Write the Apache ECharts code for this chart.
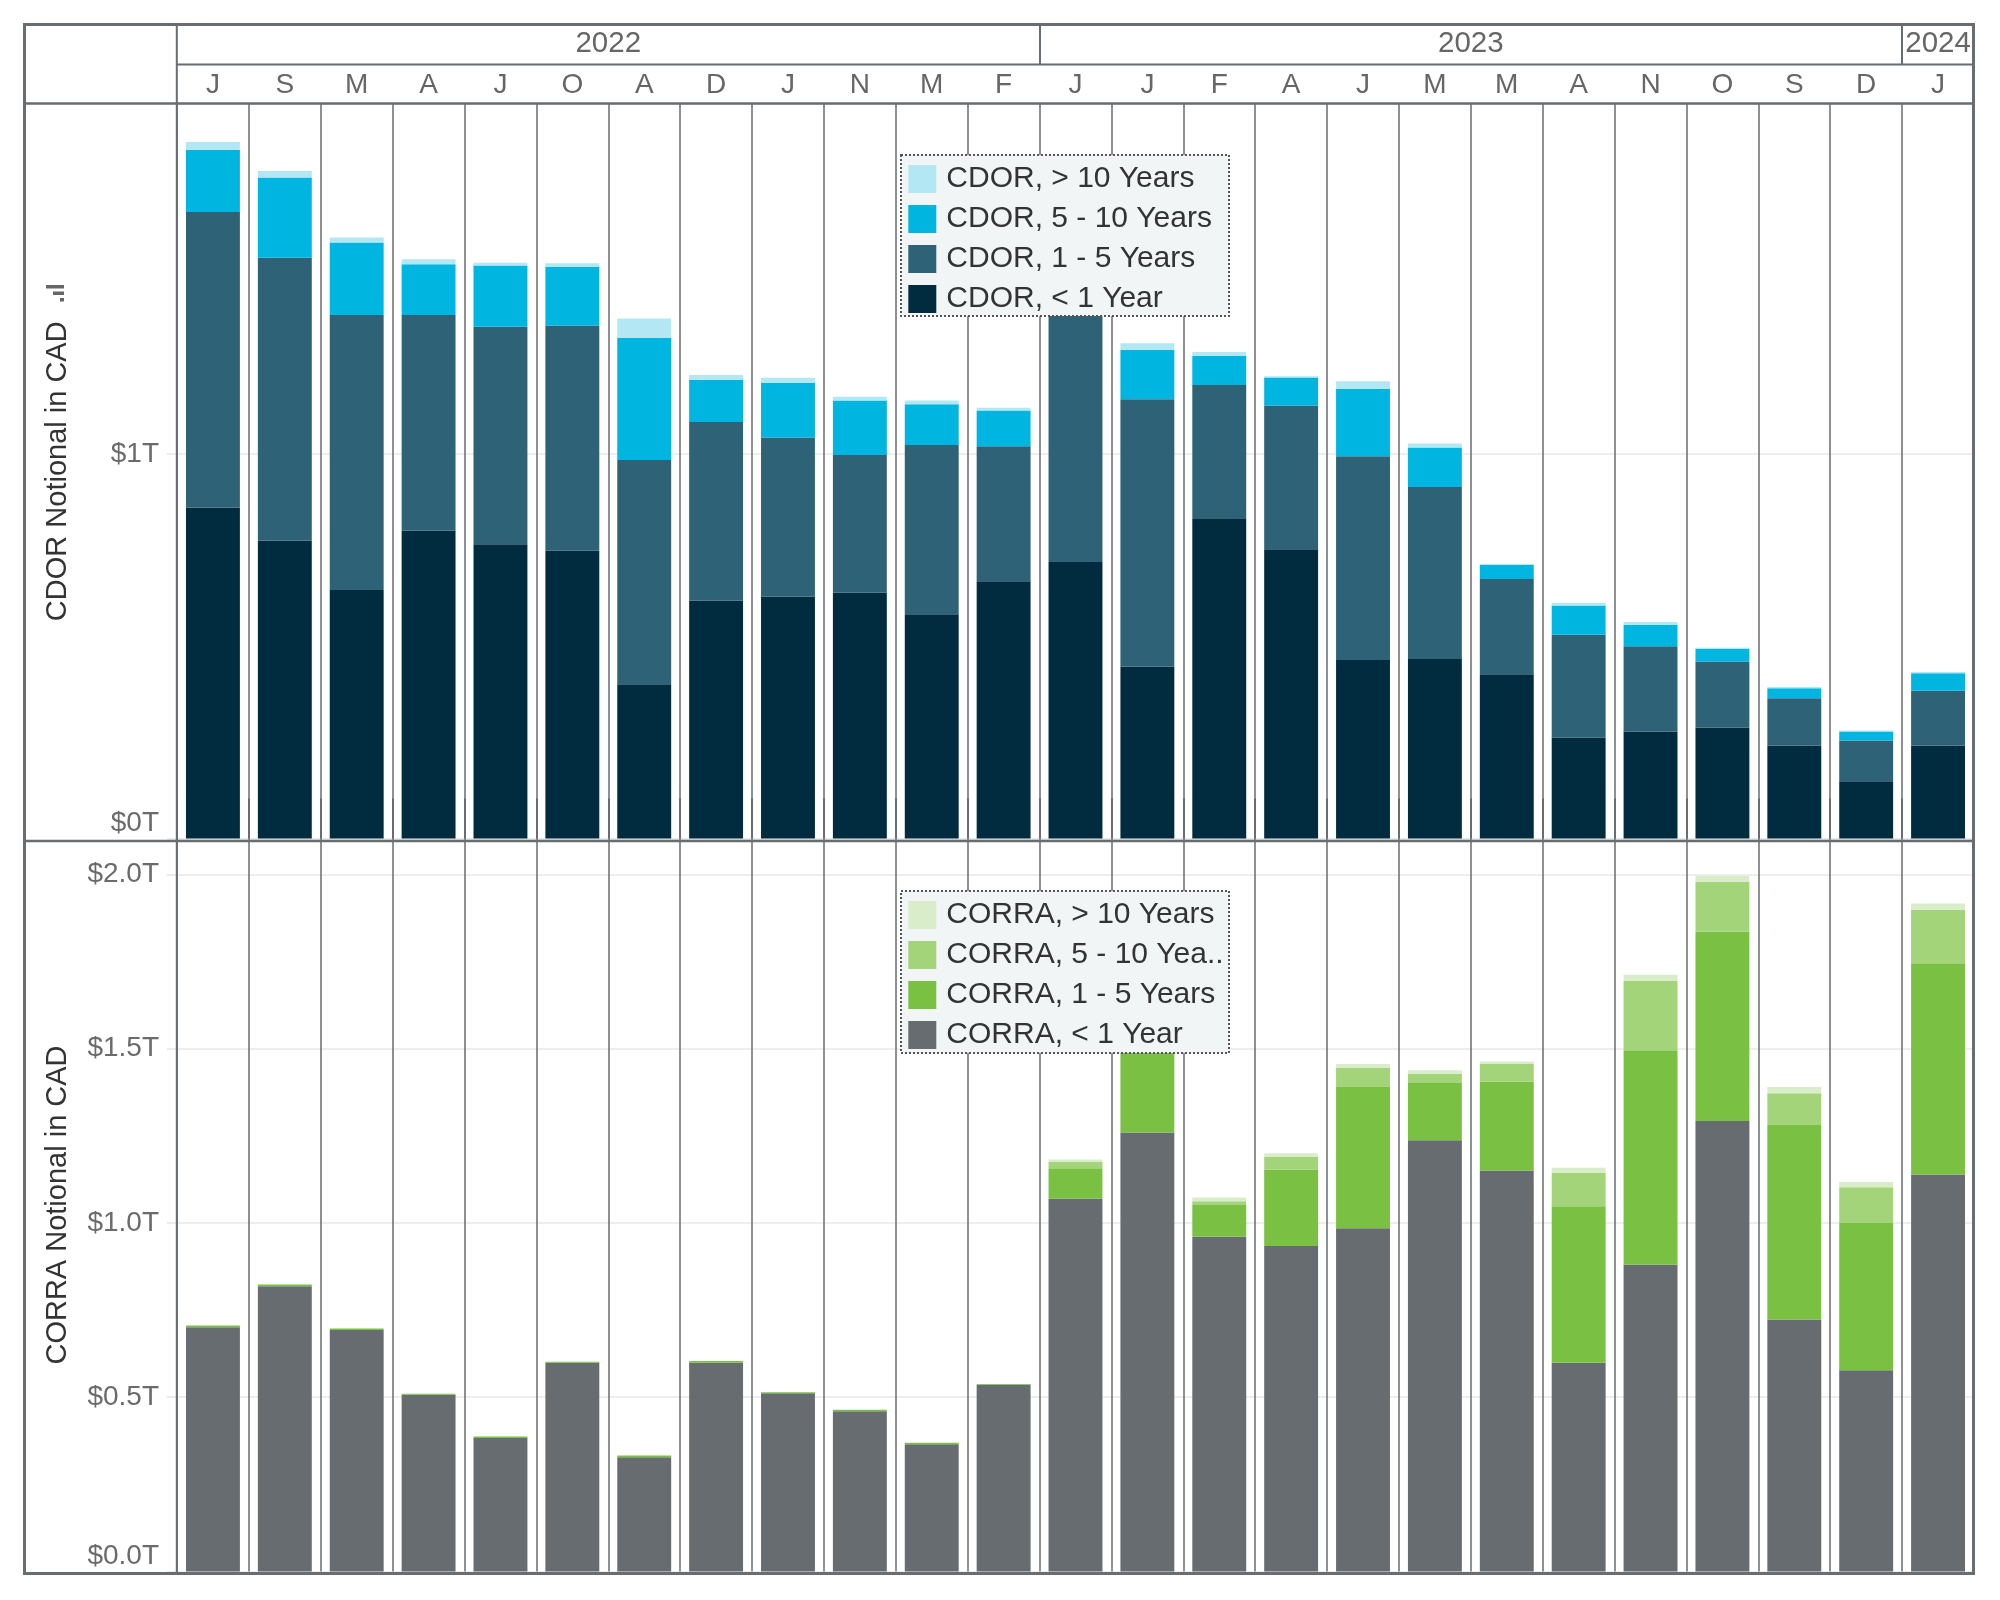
<!DOCTYPE html>
<html><head><meta charset="utf-8">
<script src="https://cdn.jsdelivr.net/npm/echarts@6/dist/echarts.min.js"></script>
<style>html,body{margin:0;padding:0;background:#fff}#c{width:2000px;height:1600px}</style>
</head><body><div id="c"></div>
<script>
// ---- Data (values in trillions CAD) ----
const months = ['J','S','M','A','J','O','A','D','J','N','M','F','J','J','F','A','J','M','M','A','N','O','S','D','J'];
const yearLabels = ['2022','2023','2024'];
const yearSpans = [12, 12, 1];

const cdorNames = ['CDOR, < 1 Year','CDOR, 1 - 5 Years','CDOR, 5 - 10 Years','CDOR, > 10 Years'];
const cdorLt1  = [0.861,0.775,0.646,0.801,0.765,0.748,0.401,0.619,0.629,0.639,0.583,0.669,0.719,0.447,0.831,0.752,0.464,0.467,0.427,0.262,0.278,0.288,0.242,0.149,0.242];
const cdor1to5 = [0.768,0.735,0.715,0.560,0.566,0.586,0.583,0.464,0.414,0.358,0.440,0.351,0.762,0.695,0.348,0.374,0.530,0.447,0.248,0.268,0.222,0.172,0.123,0.106,0.142];
const cdor5to10= [0.162,0.209,0.189,0.132,0.159,0.152,0.318,0.109,0.142,0.142,0.106,0.093,0.132,0.129,0.076,0.073,0.175,0.103,0.036,0.076,0.056,0.033,0.026,0.023,0.046];
const cdorGt10 = [0.020,0.017,0.013,0.013,0.007,0.010,0.050,0.013,0.013,0.010,0.010,0.007,0.017,0.017,0.010,0.003,0.020,0.010,0.003,0.007,0.007,0.003,0.003,0.003,0.003];

const corraNames = ['CORRA, < 1 Year','CORRA, 1 - 5 Years','CORRA, 5 - 10 Years','CORRA, > 10 Years'];
const corraLt1  = [0.701,0.818,0.693,0.507,0.383,0.599,0.328,0.599,0.511,0.460,0.365,0.536,1.069,1.259,0.960,0.934,0.985,1.237,1.150,0.599,0.880,1.292,0.723,0.577,1.139];
const corra1to5 = [0.005,0.005,0.004,0.003,0.004,0.003,0.005,0.005,0.003,0.004,0.004,0.002,0.088,0.318,0.091,0.219,0.405,0.164,0.255,0.449,0.613,0.544,0.558,0.423,0.606];
const corra5to10= [0,0,0,0,0,0,0,0,0,0,0,0,0.018,0.128,0.011,0.036,0.055,0.026,0.051,0.095,0.201,0.142,0.091,0.102,0.153];
const corraGt10 = [0,0,0,0,0,0,0,0,0,0,0,0,0.007,0.018,0.011,0.011,0.011,0.011,0.007,0.015,0.018,0.018,0.018,0.015,0.018];

const legendDisplay = {'CORRA, 5 - 10 Years': 'CORRA, 5 - 10 Yea..'};
const cdorColors  = ['#012c40','#2e6276','#00b5e0','#b3e7f3'];
const corraColors = ['#666c6f','#7ac143','#a3d47a','#d9edcb'];

// ---- Derived ----
const yearCenters = [], yearDividers = [];
let acc = 0;
yearSpans.forEach((s, i) => { yearCenters.push(acc + s / 2); acc += s; if (i < yearSpans.length - 1) yearDividers.push(acc); });

const FONT = "'Liberation Sans', Arial, sans-serif";
const LINE = '#676d70';
const chart = echarts.init(document.getElementById('c'), null, {width: 2000, height: 1600, renderer: 'canvas'});

function barSeries(names, arrays, colors, stack, xi, yi) {
  return names.map((n, i) => ({
    name: n, type: 'bar', stack: stack, xAxisIndex: xi, yAxisIndex: yi,
    data: arrays[i], barWidth: '75%', itemStyle: {color: colors[i]}, z: 2
  }));
}

const legendCommon = {
  orient: 'vertical', padding: 0, itemWidth: 28, itemHeight: 28, itemGap: 10, icon: 'rect', z: 6,
  selectedMode: false,
  formatter: n => '{t|' + (legendDisplay[n] || n) + '}',
  textStyle: {fontFamily: FONT, fontSize: 30, color: '#333',
    rich: {t: {fontFamily: FONT, fontSize: 30, color: '#333', padding: [0, 0, 0, 5]}}}
};

const yLabelCommon = {fontFamily: FONT, fontSize: 28, color: '#6b6b6b', margin: 18};

const option = {
  animation: false,
  backgroundColor: '#fff',
  grid: [
    {left: 177, right: 26, top: 104, height: 734.5, containLabel: false, outerBoundsMode: 'none'},
    {left: 177, right: 26, top: 838.5, height: 733, containLabel: false, outerBoundsMode: 'none'}
  ],
  xAxis: [
    {type: 'category', gridIndex: 0, position: 'top', data: months,
     axisLine: {show: false},
     axisTick: {show: true, interval: 0, length: 40, lineStyle: {color: LINE, width: 2}},
     axisLabel: {interval: 0, margin: 4.5, fontFamily: FONT, fontSize: 28, color: '#666'},
     splitLine: {show: true, interval: 0, lineStyle: {color: LINE, width: 1.5}}},
    {type: 'value', gridIndex: 0, position: 'top', offset: 40, min: 0, max: 25,
     axisLine: {show: false},
     axisTick: {show: true, customValues: yearDividers, length: 40, lineStyle: {color: LINE, width: 2}},
     axisLabel: {show: true, customValues: yearCenters, margin: 5, fontFamily: FONT, fontSize: 29.5, color: '#666',
       formatter: v => { const k = yearCenters.indexOf(v); return k >= 0 ? yearLabels[k] : ''; }},
     splitLine: {show: false}},
    {type: 'category', gridIndex: 1, position: 'bottom', data: months,
     axisLine: {show: false}, axisTick: {show: false}, axisLabel: {show: false},
     splitLine: {show: true, interval: 0, lineStyle: {color: LINE, width: 1.5}}}
  ],
  yAxis: [
    {type: 'value', gridIndex: 0, min: 0, max: 1.91, interval: 1,
     name: 'CDOR Notional in CAD', nameLocation: 'middle', nameRotate: 90, nameGap: 105,
     nameTextStyle: {fontFamily: FONT, fontSize: 29, color: '#333'},
     axisLine: {show: false},
     axisTick: {show: true, length: 10, lineStyle: {color: '#e6e6e6', width: 1.5}},
     axisLabel: Object.assign({}, yLabelCommon, {showMaxLabel: false,
       formatter: v => v === 0 ? '{z|$0T}' : '$' + v + 'T',
       rich: {z: {fontFamily: FONT, fontSize: 28, color: '#6b6b6b', padding: [0, 0, 31, 0]}}}),
     splitLine: {show: true, lineStyle: {color: '#e8e8e8', width: 1.5}}},
    {type: 'value', gridIndex: 1, min: 0, max: 2.1027, interval: 0.5,
     name: 'CORRA Notional in CAD', nameLocation: 'middle', nameRotate: 90, nameGap: 105,
     nameTextStyle: {fontFamily: FONT, fontSize: 29, color: '#333'},
     axisLine: {show: false},
     axisTick: {show: true, length: 10, lineStyle: {color: '#e6e6e6', width: 1.5}},
     axisLabel: Object.assign({}, yLabelCommon, {showMaxLabel: false,
       formatter: v => v === 0 ? '{z|$0.0T}' : '$' + v.toFixed(1) + 'T',
       rich: {z: {fontFamily: FONT, fontSize: 28, color: '#6b6b6b', padding: [0, 0, 30, 0]}}}),
     splitLine: {show: true, lineStyle: {color: '#e8e8e8', width: 1.5}}}
  ],
  legend: [
    Object.assign({}, legendCommon, {left: 908.3, top: 164, data: cdorNames.slice().reverse()}),
    Object.assign({}, legendCommon, {left: 908.3, top: 900, data: corraNames.slice().reverse()})
  ],
  graphic: [
    // legend boxes (dotted)
    {type: 'rect', z: 5, shape: {x: 901, y: 155, width: 328, height: 161},
     style: {fill: '#f2f5f6', stroke: '#555', lineWidth: 2, lineDash: [2, 2]}},
    {type: 'rect', z: 5, shape: {x: 901, y: 891, width: 328, height: 162},
     style: {fill: '#f2f5f6', stroke: '#555', lineWidth: 2, lineDash: [2, 2]}},
    // frame
    {type: 'rect', z: 10, shape: {x: 24.5, y: 24.5, width: 1949, height: 1549}, style: {fill: null, stroke: LINE, lineWidth: 3}},
    {type: 'line', z: 10, shape: {x1: 176.8, y1: 24, x2: 176.8, y2: 1574}, style: {stroke: LINE, lineWidth: 2}},
    {type: 'line', z: 10, shape: {x1: 176, y1: 64.5, x2: 1973, y2: 64.5}, style: {stroke: LINE, lineWidth: 2}},
    {type: 'line', z: 10, shape: {x1: 24, y1: 103.5, x2: 1973, y2: 103.5}, style: {stroke: LINE, lineWidth: 2.5}},
    {type: 'line', z: 10, shape: {x1: 24, y1: 841, x2: 1973, y2: 841}, style: {stroke: LINE, lineWidth: 2.5}},
    // sort icon next to CDOR axis title
    {type: 'rect', z: 10, shape: {x: 46, y: 285, width: 18, height: 3.5}, style: {fill: '#666'}},
    {type: 'rect', z: 10, shape: {x: 53, y: 291.5, width: 11, height: 3.5}, style: {fill: '#666'}},
    {type: 'rect', z: 10, shape: {x: 60, y: 298, width: 4, height: 3.5}, style: {fill: '#666'}}
  ],
  series: [].concat(
    barSeries(cdorNames, [cdorLt1, cdor1to5, cdor5to10, cdorGt10], cdorColors, 'cdor', 0, 0),
    barSeries(corraNames, [corraLt1, corra1to5, corra5to10, corraGt10], corraColors, 'corra', 2, 1)
  )
};
chart.setOption(option);
</script>
</body></html>
